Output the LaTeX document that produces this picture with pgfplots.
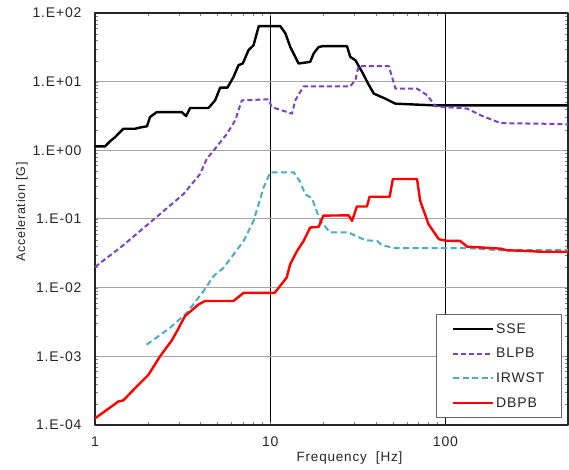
\documentclass[border=0pt]{standalone}
\usepackage{pgfplots}
\pgfplotsset{compat=1.18}
\usepackage{fontspec}
\setmainfont{Liberation Sans}[LetterSpace=6]
\definecolor{sse}{RGB}{0,0,0}
\definecolor{blpb}{RGB}{125,65,190}
\definecolor{irwst}{RGB}{75,172,198}
\definecolor{dbpb}{RGB}{255,0,0}
\definecolor{gridgray}{RGB}{165,165,165}
\begin{document}
\begin{tikzpicture}
\path[use as bounding box] (-95pt,-45pt) rectangle (474pt,425pt);
\begin{axis}[
  at={(0pt,0pt)}, anchor=south west,
  scale only axis, width=473pt, height=412pt,
  xmode=log, ymode=log,
  xmin=1, xmax=500, ymin=1e-4, ymax=1e2,
  xtick={1,10,100}, xticklabels={1,10,100},
  ytick={1e-4,1e-3,1e-2,1e-1,1,10,100},
  yticklabels={1.E-04,1.E-03,1.E-02,1.E-01,1.E+00,1.E+01,1.E+02},
  minor xtick={}, minor ytick={},
  major tick length=0pt,
  xmajorgrids, ymajorgrids,
  x grid style={black, line width=0.8pt},
  y grid style={gridgray, line width=1pt},
  axis line style={black!85, line width=1.2pt},
  ticklabel style={font=\fontsize{14}{16}\selectfont, black!85},
  yticklabel style={xshift=-10pt},
  xticklabel style={yshift=-8pt},
  xlabel={Frequency~~[Hz]},
  ylabel={Acceleration [G]},
  label style={font=\fontsize{13.5}{15}\selectfont, black!85},
  xlabel style={yshift=2pt, xshift=18pt},
  ylabel style={yshift=-2pt, xshift=7pt, font=\fontsize{12.5}{14}\selectfont},
  legend cell align=left,
  legend style={at={(0.987,0.017)}, anchor=south east, draw=black!60, line width=0.8pt,
    font=\fontsize{14}{16}\selectfont, row sep=9.5pt, inner xsep=15pt, inner ysep=7pt,
    text=black!85},
  legend image code/.code={\draw[#1] (0pt,0pt) -- (40pt,0pt);},
  line join=round,
]
\addplot[sse, line width=2.4pt] coordinates {
(1,1.14) (1.14,1.14) (1.22,1.36) (1.30,1.55) (1.45,2.06) (1.69,2.06) (1.81,2.15) (1.98,2.24) (2.06,3.05) (2.25,3.6) (3.13,3.6) (3.31,3.15) (3.49,4.13) (4.44,4.13) (4.85,5.35) (5.18,8.2) (5.7,8.2) (6.17,11.7) (6.59,17.4) (6.97,18.4) (7.52,28.8) (8.03,34) (8.6,64.5) (11.4,64.5) (12.2,50.5) (13.0,32.2) (14.5,18.4) (16.9,19.4) (17.7,25.8) (18.9,32) (20.1,33) (27.4,33) (28.6,23) (30.6,20.5) (33.4,13.9) (36.6,8.86) (39.0,6.7) (45.3,5.66) (51.8,4.78) (85.6,4.52) (500,4.52)
};
\addlegendentry{SSE}
\addplot[blpb, line width=2pt, dash pattern=on 5pt off 3pt] coordinates {
(1,0.02) (1.45,0.0415) (2.15,0.0973) (3.2,0.231) (3.98,0.453) (4.34,0.75) (4.75,0.99) (5.66,1.74) (6.31,2.73) (6.88,5.35) (9.78,5.53) (10.2,4.27) (13.3,3.42) (13.9,5.35) (15.5,8.56) (28.6,8.56) (30.6,10.5) (31.9,16.8) (47.5,16.8) (51.8,7.93) (68.8,7.93) (78.6,6.33) (87.8,4.37) (133,4.05) (159,3.23) (206,2.49) (400,2.43) (500,2.39)
};
\addlegendentry{BLPB}
\addplot[irwst, line width=2pt, dash pattern=on 6pt off 3.5pt] coordinates {
(1.97,0.00148) (2.68,0.0026) (3.34,0.0043) (4.16,0.0089) (4.75,0.0148) (5.42,0.0195) (7.05,0.048) (8.03,0.094) (9.17,0.289) (10.0,0.479) (13.6,0.479) (14.8,0.35) (15.8,0.231) (17.3,0.2) (19.3,0.094) (21.9,0.064) (28.0,0.064) (30.6,0.057) (35,0.049) (40.7,0.048) (43.4,0.0415) (51.8,0.0376) (133,0.0376) (206,0.035) (500,0.0355)
};
\addlegendentry{IRWST}
\addplot[dbpb, line width=2.4pt] coordinates {
(1,0.000125) (1.22,0.00018) (1.36,0.00022) (1.45,0.000228) (1.73,0.000364) (2.02,0.00054) (2.35,0.001) (2.74,0.0017) (2.93,0.0023) (3.26,0.00385) (3.9,0.0057) (4.25,0.0064) (6.17,0.0064) (7.05,0.0084) (10.6,0.0084) (12.4,0.014) (13.0,0.022) (14.2,0.034) (15.5,0.048) (16.9,0.0752) (18.9,0.077) (20.1,0.112) (28,0.113) (29.3,0.094) (31.2,0.152) (35.6,0.152) (36.9,0.211) (48.0,0.211) (50.1,0.383) (68.8,0.383) (71.7,0.184) (80,0.084) (91.6,0.0508) (101.8,0.048) (121,0.048) (133,0.0396) (206,0.037) (225,0.035) (292,0.0343) (350,0.0333) (500,0.0333)
};
\addlegendentry{DBPB}
\end{axis}
\end{tikzpicture}
\end{document}
